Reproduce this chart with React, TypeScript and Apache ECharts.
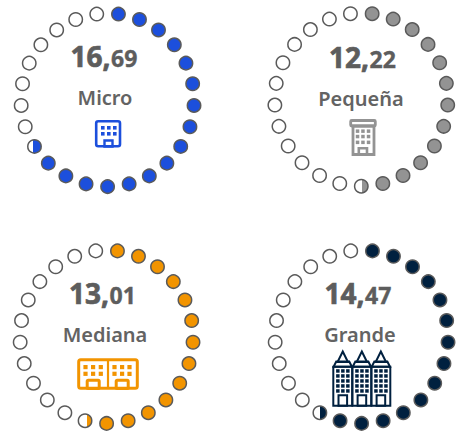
import React, { useEffect, useRef } from "react";
import * as echarts from "echarts";

const categories = ["Micro", "Pequeña", "Mediana", "Grande"];
const values = [16.69, 12.22, 13.01, 14.47];
const wholeLabels = ["16,", "12,", "13,", "14,"];
const decimalLabels = ["69", "22", "01", "47"];
const partialFill = [0.6, 0.43, 0.38, 0.5];
const dotCount = 25;
const colors = ["#1c4fdc", "#939393", "#f29400", "#00203f"];
const centers = [
  [107.6, 100],
  [361.3, 99.6],
  [106.6, 336.8],
  [361.6, 336.8],
];
const numberSplitX = [110.5, 369, 109, 364.5];
const numberY = [56, 57, 293, 293];
const labelX = [105, 361, 105, 360];
const labelY = [97, 98, 334, 334];
const TEXT = "#5d5d5d";
const FONT = "'Noto Sans', sans-serif";

function rect(x: number, y: number, w: number, h: number, color: string, stroke = 0, r = 0) {
  return {
    type: "rect",
    shape: { x, y, width: w, height: h, r },
    style: stroke ? { fill: "none", stroke: color, lineWidth: stroke } : { fill: color },
  };
}

function windows(xs: number[], ys: number[], size: number, color: string) {
  const out: any[] = [];
  xs.forEach((x) => ys.forEach((y) => out.push(rect(x, y, size, size, color))));
  return out;
}

function icons() {
  const [blue, gray, orange, navy] = colors;
  const micro = [
    rect(96.2, 121.2, 23.8, 25, blue, 2.6, 2),
    ...windows([101, 107, 113], [126, 132], 3.6, blue),
    rect(104.5, 140.5, 8, 6, blue, 2.4),
  ];
  const small = [
    rect(350.7, 120.5, 24.6, 5.5, gray, 2.8, 1),
    rect(353, 126, 21, 28.5, gray, 2.8),
    ...windows([355.8, 361.2, 366.8], [129.4, 134.8, 140.6], 3.5, gray),
    rect(358.8, 148.2, 8.2, 6.2, gray, 2.6),
  ];
  const medium = [
    rect(78.7, 359.7, 58.6, 28.6, orange, 3, 2),
    { type: "line", shape: { x1: 108, y1: 359.5, x2: 108, y2: 388.5 }, style: { stroke: orange, lineWidth: 2.2 } },
    ...windows([83.4, 91, 98.7, 112.4, 120, 127.4], [365, 371.7], 4.2, orange),
    rect(87.2, 380.3, 12, 8.2, orange, 3, 1),
    rect(116.2, 380.3, 12, 8.2, orange, 3, 1),
  ];
  const large: any[] = [];
  [333.3, 352.4, 371.4].forEach((x) => {
    const w = 18.9;
    large.push(
      rect(x, 366.8, w, 39, navy, 2),
      {
        type: "polygon",
        shape: { points: [[x + w / 2, 351.5], [x + w / 2 + 5.2, 362], [x + w / 2 - 5.2, 362]] },
        style: { fill: "none", stroke: navy, lineWidth: 2 },
      },
      {
        type: "polygon",
        shape: { points: [[x + w / 2 - 6.5, 361.5], [x + w / 2 + 6.5, 361.5], [x + w - 0.3, 366.8], [x + 0.3, 366.8]] },
        style: { fill: "none", stroke: navy, lineWidth: 2 },
      },
      ...windows([x + 2.8, x + 7.8, x + 12.8], [369.2, 374.2, 379.2, 384.2, 389.2], 3.5, navy),
      rect(x + 5.2, 395.3, 8.6, 10.4, navy, 2)
    );
  });
  return [micro, small, medium, large].map((children) => ({ type: "group", children }));
}

function dots(value: number, partial: number, color: string) {
  const full = Math.floor(value);
  return Array.from({ length: dotCount }, (_, i) => {
    let fill: any = "#ffffff";
    if (i < full) fill = color;
    else if (i === full) {
      const s = 1 - partial;
      fill = new echarts.graphic.LinearGradient(0, 0, 1, 0, [
        { offset: 0, color: "#ffffff" },
        { offset: s, color: "#ffffff" },
        { offset: s, color },
        { offset: 1, color },
      ]);
    }
    return { value: [1, i + 0.5], itemStyle: { color: fill } };
  });
}

export default function App() {
  const ref = useRef<HTMLDivElement>(null);
  useEffect(() => {
    document.body.style.margin = "0";
    const chart = echarts.init(ref.current!, undefined, { renderer: "svg" });
    chart.setOption({
      animation: false,
      backgroundColor: "#ffffff",
      polar: centers.map((center) => ({ center, radius: 86.6 })),
      angleAxis: centers.map((_, i) => ({
        polarIndex: i,
        type: "value",
        min: 0,
        max: dotCount,
        startAngle: 90,
        clockwise: true,
        show: false,
      })),
      radiusAxis: centers.map((_, i) => ({
        polarIndex: i,
        type: "value",
        min: 0,
        max: 1,
        show: false,
      })),
      series: categories.map((name, i) => ({
        name,
        type: "scatter",
        coordinateSystem: "polar",
        polarIndex: i,
        symbol: "circle",
        symbolSize: 13.4,
        silent: true,
        itemStyle: { borderColor: "#5a5a5a", borderWidth: 1.5, opacity: 1 },
        data: dots(values[i], partialFill[i], colors[i]),
      })),
      graphic: [
        ...categories.flatMap((name, i) => [
          {
            type: "text",
            x: numberSplitX[i],
            y: numberY[i],
            style: {
              text: wholeLabels[i],
              fill: TEXT,
              stroke: TEXT,
              lineWidth: 0.7,
              fontFamily: FONT,
              fontWeight: 700,
              fontSize: 28,
              align: "right",
              verticalAlign: "middle",
            },
          },
          {
            type: "text",
            x: numberSplitX[i] + 0.5,
            y: numberY[i] + 2,
            style: {
              text: decimalLabels[i],
              fill: TEXT,
              stroke: TEXT,
              lineWidth: 0.4,
              fontFamily: FONT,
              fontWeight: 700,
              fontSize: 23,
              align: "left",
              verticalAlign: "middle",
            },
          },
          {
            type: "text",
            x: labelX[i],
            y: labelY[i],
            style: {
              text: name,
              fill: "#636363",
              fontFamily: FONT,
              fontWeight: 600,
              fontSize: 20,
              align: "center",
              verticalAlign: "middle",
            },
          },
        ]),
        ...icons(),
      ],
    });
    return () => chart.dispose();
  }, []);
  return <div ref={ref} style={{ width: 456, height: 433 }} />;
}
